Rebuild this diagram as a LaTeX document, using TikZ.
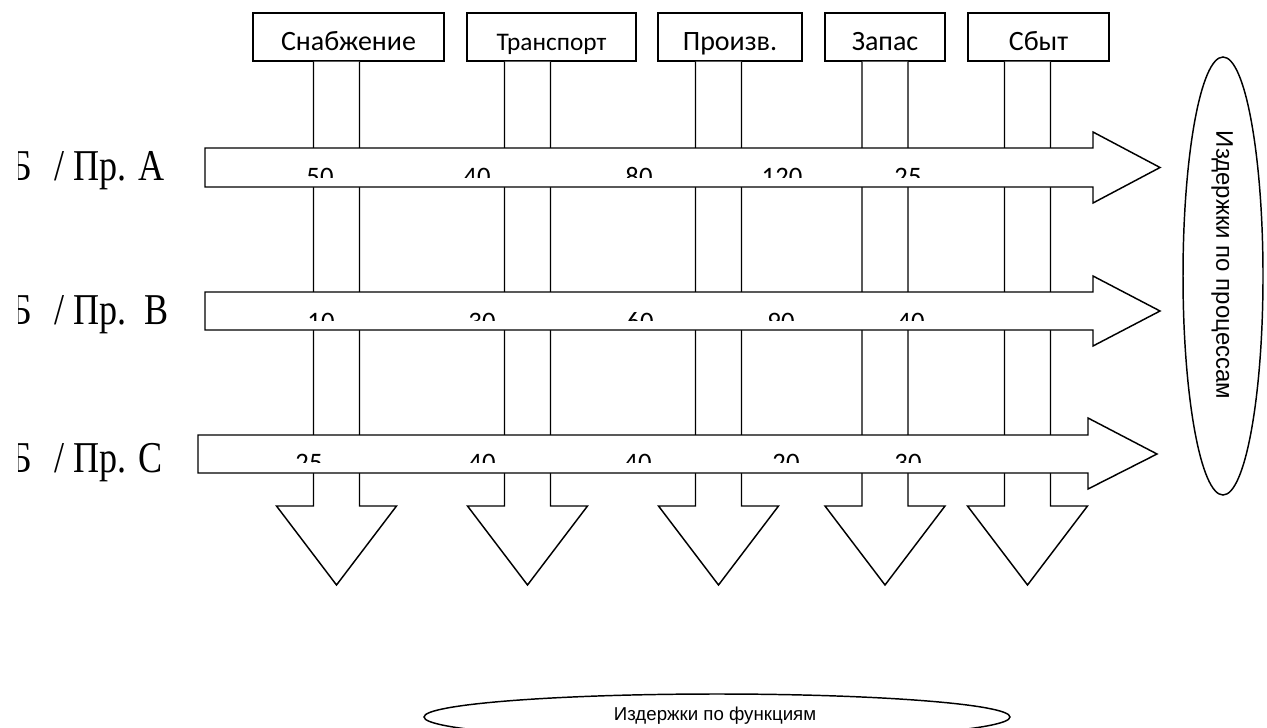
\documentclass[tikz,border=0pt]{standalone}
\usepackage{fontspec}
\setmainfont{Liberation Serif}
\newfontfamily\rowfont[FakeStretch=0.82]{Liberation Serif}
\newfontfamily\calibrifont{Carlito}
\newfontfamily\arialfont{Liberation Sans}
\usetikzlibrary{shapes.geometric}
\tikzset{
  fbox/.style={rectangle, draw, line width=1.1pt, fill=white, minimum height=36pt,
    inner sep=0pt, text height=22.5pt, text depth=3pt,
    font=\calibrifont\fontsize{21}{21}\selectfont},
  col/.style={draw, line width=1.1pt, fill=white, line join=miter},
  harrow/.style={draw, line width=1.1pt, fill=white, line join=miter},
  num/.style={anchor=base, inner sep=0pt, font=\calibrifont\fontsize{20}{20}\selectfont},
  rowlbl/.style={anchor=base east, inner sep=0pt, font=\rowfont\fontsize{33}{33}\selectfont},
  cost/.style={ellipse, draw, line width=1.1pt, inner sep=0pt},
  costtxt/.style={inner sep=0pt, font=\arialfont\fontsize{18}{18}\selectfont}
}
\begin{document}
\begin{tikzpicture}[x=0.75pt, y=-0.75pt]
  \useasboundingbox (0,0) rectangle (1267,728);
  \clip (0,0) rectangle (1267,728);
  % function boxes
  \node[fbox, minimum width=143.25pt] (snab) at (348.5,37) {Снабжение};
  \node[fbox, minimum width=126.75pt, font=\calibrifont\fontsize{19}{19}\selectfont] (trans) at (551.5,37) {Транспорт};
  \node[fbox, minimum width=108pt] (proiz) at (730,37) {Произв.};
  \node[fbox, minimum width=90pt] (zapas) at (885,37) {Запас};
  \node[fbox, minimum width=105.75pt] (sbyt) at (1038.5,37) {Сбыт};
  % columns ending in down arrows
  \foreach \n/\c in {snab/336.5, trans/527.5, proiz/718.5, zapas/885, sbyt/1027.5}
    \draw[col] (\c-23,0 |- \n.south) -- (\c-23,506) -- (\c-60,506) -- (\c,585)
      -- (\c+60,506) -- (\c+23,506) -- (\c+23,0 |- \n.south);
  % process arrows
  \draw[harrow] (205,148) -- (1093,148) -- (1093,132) -- (1160,167.5) -- (1093,203) -- (1093,187) -- (205,187) -- cycle;
  \draw[harrow] (205,292) -- (1093,292) -- (1093,276) -- (1160,311) -- (1093,346) -- (1093,330) -- (205,330) -- cycle;
  \draw[harrow] (198,435) -- (1088,435) -- (1088,418) -- (1157,454) -- (1088,489) -- (1088,473) -- (198,473) -- cycle;
  % values, cut off at the bottom
  \begin{scope}
    \clip (190,140) rectangle (1100,177);
    \foreach \x/\v [count=\i] in {320/50, 477/40, 639/80, 782/120, 908/25}
      \node[num] (a\i) at (\x,185) {\v};
  \end{scope}
  \begin{scope}
    \clip (190,285) rectangle (1100,320);
    \foreach \x/\v [count=\i] in {321/10, 482/30, 640/60, 781/90, 911/40}
      \node[num] (b\i) at (\x,330) {\v};
  \end{scope}
  \begin{scope}
    \clip (190,428) rectangle (1100,462);
    \foreach \x/\v [count=\i] in {309/25, 482/40, 638/40, 786/20, 908/30}
      \node[num] (c\i) at (\x,471) {\v};
  \end{scope}
  % row labels, cut off at the left
  \begin{scope}
    \clip (18,100) rectangle (195,500);
    \node[rowlbl] (rowA) at (165,180) {Б \hspace{10pt}/ Пр. A};
    \node[rowlbl] (rowB) at (169,324) {Б \hspace{10pt}/ Пр.\ \ B};
    \node[rowlbl] (rowC) at (163,472) {Б \hspace{10pt}/ Пр. C};
  \end{scope}
  % cost ellipses
  \node[cost, minimum width=60pt, minimum height=328.5pt] (proc) at (1223,276) {};
  \node[costtxt, rotate=-90] (proct) at (1222,265) {Издержки по процессам};
  \node[cost, minimum width=439.5pt, minimum height=34.5pt] (func) at (717,717) {};
  \node[costtxt, font=\arialfont\fontsize{14}{14}\selectfont] (funct) at (715,716) {Издержки по функциям};
\end{tikzpicture}
\end{document}
